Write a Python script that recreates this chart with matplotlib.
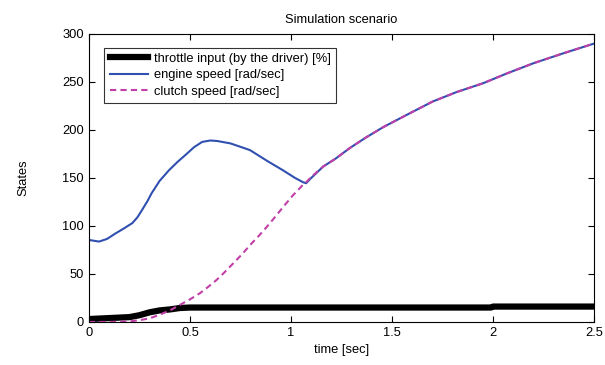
import matplotlib
matplotlib.use("Agg")
import matplotlib.pyplot as plt

plt.rcParams['font.family'] = ['Liberation Sans', 'DejaVu Sans']

# throttle input [%]
t_thr = [0, 0.1, 0.2, 0.25, 0.3, 0.35, 0.4, 0.45, 0.5, 1.0, 1.5, 1.99, 2.0, 2.5]
thr = [3, 4, 5, 7, 10, 12, 13, 14.5, 15, 15, 15, 15, 16, 16]

# engine speed [rad/sec]
t_eng = [0, 0.05, 0.09, 0.13, 0.17, 0.215, 0.24, 0.264, 0.29, 0.31, 0.35, 0.396, 0.44,
         0.478, 0.52, 0.56, 0.6, 0.634, 0.7, 0.797, 0.88, 0.96, 1.02, 1.06, 1.075,
         1.1, 1.16, 1.22, 1.29, 1.37, 1.457, 1.58, 1.70, 1.82, 1.95, 2.07, 2.2,
         2.35, 2.5]
eng = [85.4, 83.7, 86.5, 92, 97, 103, 109, 117, 126, 134, 147, 158, 167,
       174, 182, 187.5, 189, 188.5, 186, 179, 168, 158, 150, 145.5, 144.5,
       150, 162, 170, 181, 192, 203, 216.5, 229.5, 239.5, 248.6, 259, 269.5,
       280, 290]

# clutch speed [rad/sec]
t_clu = [0, 0.1, 0.2, 0.25, 0.302, 0.35, 0.4, 0.45, 0.5, 0.55, 0.59, 0.632, 0.67,
         0.714, 0.76, 0.797, 0.84, 0.88, 0.92, 0.962, 1.01, 1.06, 1.075, 1.1, 1.16,
         1.22, 1.29, 1.37, 1.457, 1.58, 1.70, 1.82, 1.95, 2.07, 2.2, 2.35, 2.5]
clu = [0, 0, 0.5, 1.8, 3.8, 7.5, 12, 17.7, 23.5, 30, 36.5, 43.8, 51.5,
       61, 71, 80, 89.5, 99, 109, 120, 132, 143, 145.5, 151, 162,
       170, 181, 192, 203, 216.5, 229.5, 239.5, 248.6, 259, 269.5, 280, 290]

fig = plt.figure(figsize=(6.05, 3.65), dpi=100)
ax = fig.add_axes([0.147, 0.118, 0.835, 0.789])

ax.plot(t_thr, thr, color='black', lw=4.5, label='throttle input (by the driver) [%]')
ax.plot(t_eng, eng, color='#3050b0', lw=1.5, label='engine speed [rad/sec]')
ax.plot(t_clu, clu, color='#c040a8', lw=1.5, ls=(0, (3, 2)), label='clutch speed [rad/sec]')

ax.set_xlim(0, 2.5)
ax.set_ylim(0, 300)
ax.set_xticks([0, 0.5, 1, 1.5, 2, 2.5])
ax.set_xticklabels(['0', '0.5', '1', '1.5', '2', '2.5'])
ax.set_yticks(range(0, 301, 50))
ax.tick_params(direction='in', top=True, right=True, labelsize=9.3, length=4)
ax.set_xlabel('time [sec]', fontsize=9.3)
ax.set_ylabel('States', fontsize=9.3, labelpad=24)
ax.set_title('Simulation scenario', fontsize=9.3, pad=8)

leg = ax.legend(loc='upper left', bbox_to_anchor=(0.018, 0.975), fontsize=9.3,
                frameon=True, fancybox=False, edgecolor='black', handlelength=3.0,
                borderpad=0.4, labelspacing=0.35, handletextpad=0.4)
leg.get_frame().set_linewidth(0.8)

fig.savefig('out.png', dpi=100)
